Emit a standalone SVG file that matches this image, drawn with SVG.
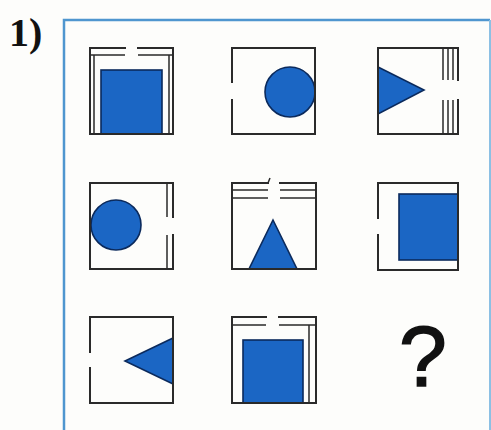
<svg xmlns="http://www.w3.org/2000/svg" width="491" height="430" viewBox="0 0 491 430">
<style>
.ln{stroke:#2a2a2a;stroke-width:2;fill:none;stroke-linecap:square}
.th{stroke:#2a2a2a;stroke-width:1.5;fill:none}
.sh{fill:#1b66c4;stroke:#0b2a5c;stroke-width:1.6}
</style>
<rect width="491" height="430" fill="#fdfdfb"/>
<text x="9" y="46" font-family="Liberation Serif, serif" font-weight="bold" font-size="40" fill="#111">1)</text>
<path d="M64 432 V20 H490" fill="none" stroke="#4f96cf" stroke-width="2.5"/>
<path d="M490 20 V432" fill="none" stroke="#8cc0e4" stroke-width="2"/>
<g id="c1">
<rect class="sh" x="101" y="70" width="61" height="64"/>
<path class="ln" d="M90 134 V48 H125 M138 48 H173 V134 H90"/>
<path class="th" d="M90 55 H125 M138 55 H173 M94 55 V134 M169 55 V134"/>
</g>
<g id="c2">
<circle class="sh" cx="290" cy="92" r="25"/>
<path class="ln" d="M232 82 V48 H315 V134 H232 V100"/>
</g>
<g id="c3">
<path class="sh" d="M378 67 L424 90 L378 114 Z"/>
<path class="ln" d="M458 80 V48 H378 V134 H458 V100"/>
<path class="th" d="M443 48 V80 M448 48 V80 M453 48 V80 M443 100 V134 M448 100 V134 M453 100 V134"/>
</g>
<g id="c4">
<circle class="sh" cx="116" cy="225" r="25"/>
<path class="ln" d="M173 217 V183 H90 V269 H173 V235"/>
<path class="th" d="M167 183 V217 M167 235 V269"/>
</g>
<g id="c5">
<path class="sh" d="M273 220 L297 269 L249 269 Z"/>
<path class="ln" d="M268 183 H232 V269 H316 V183 H280"/>
<path class="th" d="M232 190 H268 M280 190 H316 M232 198 H268 M280 198 H316 M268 183 L270 178"/>
</g>
<g id="c6">
<rect class="sh" x="399" y="194" width="59" height="66"/>
<path class="ln" d="M378 218 V183 H458 V270 H378 V235"/>
</g>
<g id="c7">
<path class="sh" d="M173 338 L125 361 L173 384 Z"/>
<path class="ln" d="M90 352 V317 H173 V403 H90 V368"/>
</g>
<g id="c8">
<rect class="sh" x="243" y="340" width="60" height="63"/>
<path class="ln" d="M266 317 H232 V403 H316 V317 H279"/>
<path class="th" d="M232 325 H266 M279 325 H316 M309 325 V403"/>
</g>
<g id="c9">
<text x="423" y="386" text-anchor="middle" font-family="Liberation Sans, Arial, sans-serif" font-size="86" fill="#111" stroke="#111" stroke-width="1.5">?</text>
</g>
</svg>
